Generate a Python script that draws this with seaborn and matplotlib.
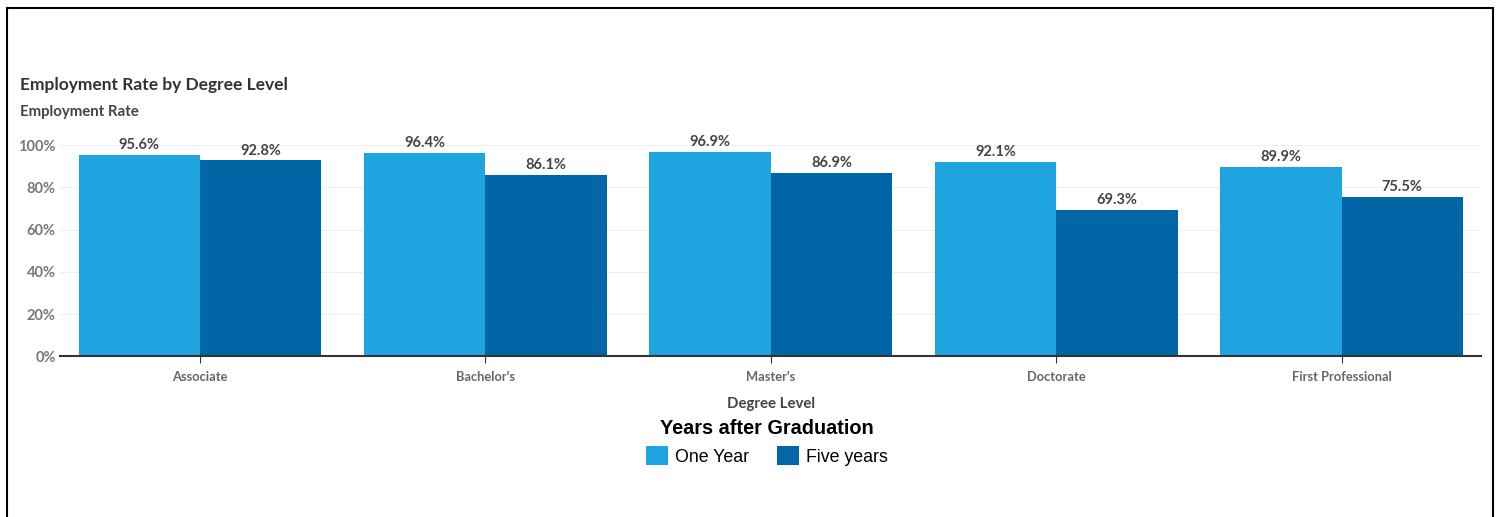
import numpy as np
import pandas as pd
import seaborn as sns
import matplotlib.pyplot as plt
from matplotlib.patches import Patch, Rectangle

degrees = ["Associate", "Bachelor's", "Master's", "Doctorate", "First Professional"]
one_year = [95.6, 96.4, 96.9, 92.1, 89.9]
five_years = [92.8, 86.1, 86.9, 69.3, 75.5]
groups = ["One Year", "Five years"]
colors = ["#1ea5e0", "#0066a6"]

df = pd.DataFrame({
    "degree": degrees * 2,
    "rate": one_year + five_years,
    "years": [groups[0]] * len(degrees) + [groups[1]] * len(degrees),
})

sns.set_style("white")
plt.rcParams["font.family"] = ["Lato", "DejaVu Sans"]

fig = plt.figure(figsize=(15.01, 5.17), dpi=100)
ax = fig.add_axes([0.040, 0.311, 0.947, 0.408])

sns.barplot(data=df, x="degree", y="rate", hue="years", order=degrees,
            hue_order=groups, palette=colors, width=0.85, saturation=1,
            linewidth=0, legend=False, ax=ax)

for cont in ax.containers:
    ax.bar_label(cont, labels=[f"{v:.1f}%" for v in cont.datavalues],
                 padding=2, fontsize=10.5, color="#444444", fontweight="bold")

ax.set_ylim(0, 100)
ax.set_xlim(-0.49, 4.49)
ax.set_yticks([0, 20, 40, 60, 80, 100])
ax.set_yticklabels([f"{t}%" for t in [0, 20, 40, 60, 80, 100]])
ax.yaxis.grid(True, color="#f0f0f0", linewidth=0.8)
ax.set_axisbelow(True)
for s in ["top", "right", "left"]:
    ax.spines[s].set_visible(False)
ax.spines["bottom"].set_color("#333333")
ax.spines["bottom"].set_linewidth(1.5)
ax.tick_params(axis="y", length=0, labelsize=10.5, labelcolor="#777777", pad=3)
ax.tick_params(axis="x", bottom=True, length=5, color="#333333",
               labelsize=9.3, labelcolor="#666666", pad=6)
for lab in ax.get_xticklabels() + ax.get_yticklabels():
    lab.set_fontweight("bold")
ax.set_ylabel("")
ax.set_xlabel("Degree Level", fontsize=10.8, color="#444444",
              fontweight="bold", labelpad=10)

fig.text(0.0133, 0.835, "Employment Rate by Degree Level", fontsize=12.5,
         fontweight="bold", color="#333333", va="center")
fig.text(0.0133, 0.783, "Employment Rate", fontsize=10.8,
         fontweight="bold", color="#444444", va="center")

legend_font = ["Liberation Sans", "DejaVu Sans"]
handles = [Patch(facecolor=c, edgecolor="none") for c in colors]
leg = fig.legend(handles, groups, loc="center", bbox_to_anchor=(0.511, 0.145),
                 ncol=2, frameon=False, title="Years after Graduation",
                 prop={"family": legend_font, "size": 12.8},
                 handlelength=1.2, handleheight=1.2, handletextpad=0.4,
                 columnspacing=1.6, borderpad=0.2, labelcolor="black")
leg.get_title().set_fontfamily(legend_font)
leg.get_title().set_fontsize(14.3)
leg.get_title().set_fontweight("bold")
leg.get_title().set_color("black")

fig.patches.append(Rectangle((0.0047, -0.05), 0.9900, 1.0345, transform=fig.transFigure,
                             fill=False, edgecolor="black", linewidth=1.5))

fig.savefig("out.png", dpi=100)
